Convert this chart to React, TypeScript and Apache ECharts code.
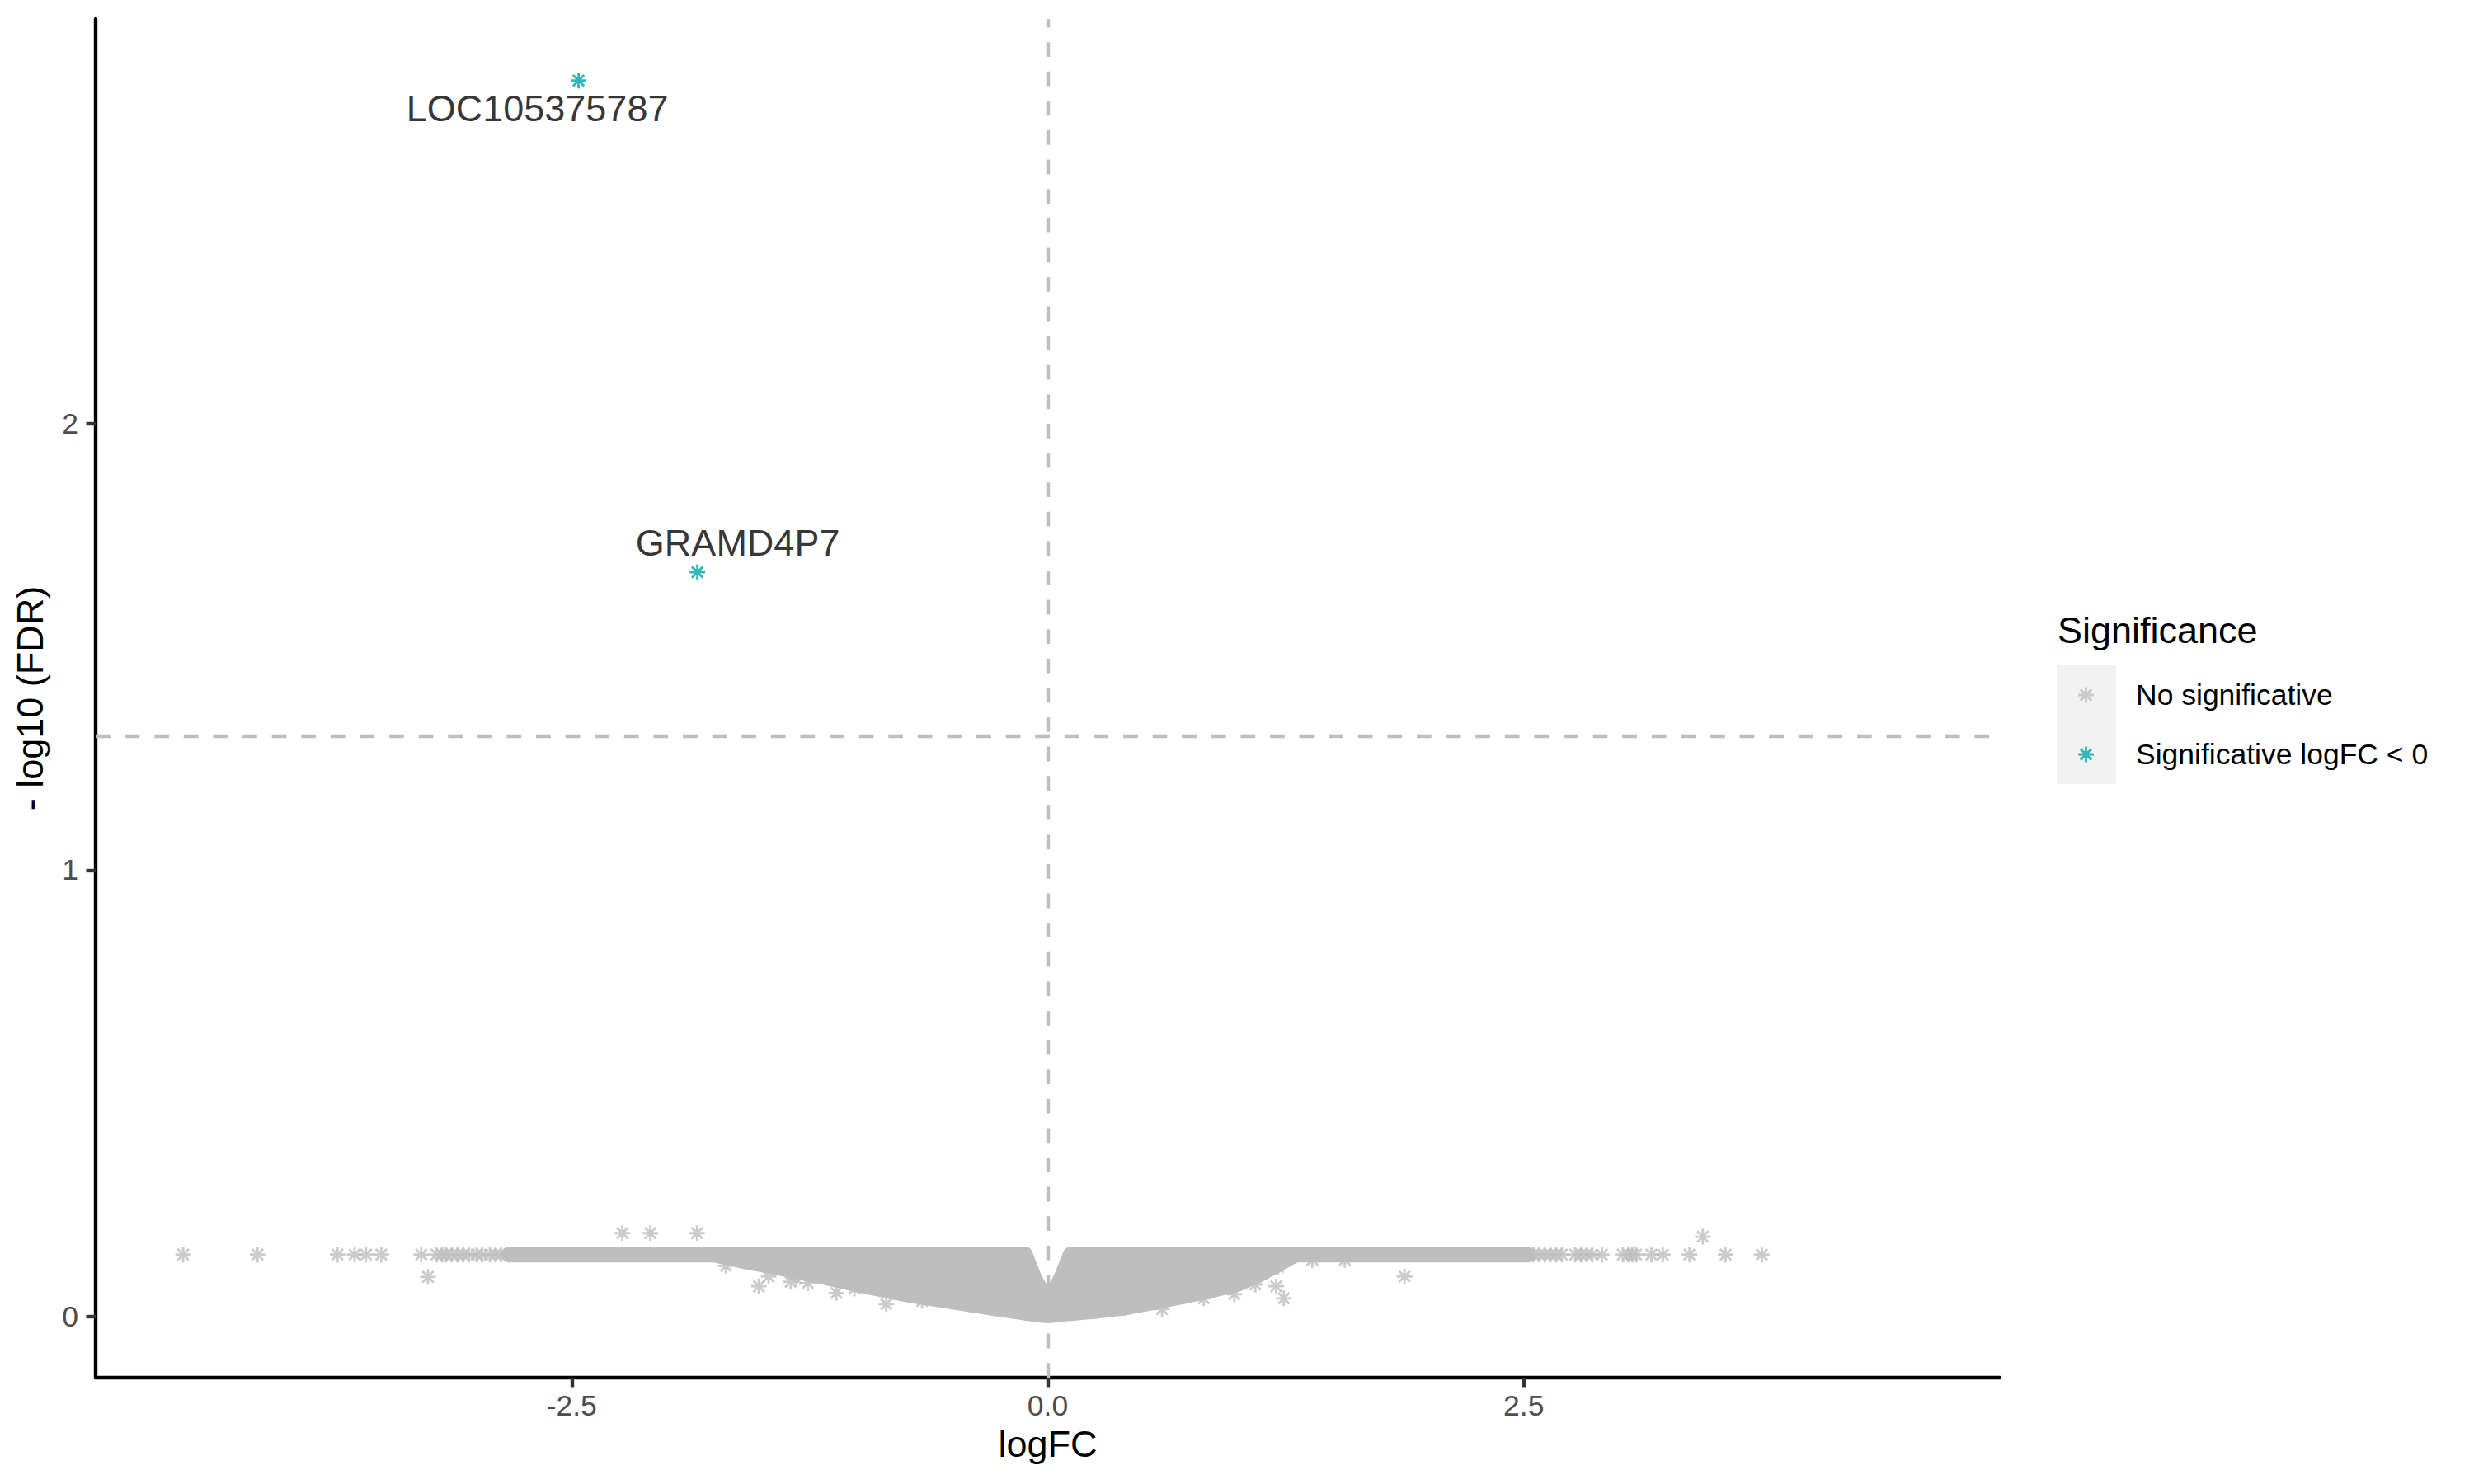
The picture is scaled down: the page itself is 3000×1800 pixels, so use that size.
import React, { useEffect, useRef } from "react";
import * as echarts from "echarts";

// ---------- data ----------
// highlighted genes (significant, logFC < 0)
const sigNames = ["LOC105375787", "GRAMD4P7"];
const sigLogFC = [-2.464, -1.84];
const sigNegLogFDR = [2.768, 1.667];

// non-significant genes drawn individually (scattered outliers)
const nsPoints: number[][] = [
  [-4.54, 0.139], [-4.15, 0.139], [-3.73, 0.139], [-3.64, 0.139], [-3.58, 0.139],
  [-3.5, 0.139], [-3.29, 0.139], [-3.21, 0.139], [-3.18, 0.139], [-3.16, 0.139],
  [-3.13, 0.139], [-3.1, 0.139], [-3.07, 0.139], [-3.04, 0.139], [-3.0, 0.139],
  [-2.97, 0.139], [-2.93, 0.139], [-2.9, 0.139], [-2.87, 0.139],
  [2.55, 0.139], [2.58, 0.139], [2.61, 0.139], [2.64, 0.139], [2.67, 0.139],
  [2.7, 0.139], [2.77, 0.139], [2.8, 0.139], [2.83, 0.139], [2.86, 0.139],
  [2.91, 0.139], [3.02, 0.139], [3.05, 0.139], [3.07, 0.139], [3.09, 0.139],
  [3.17, 0.139], [3.23, 0.139], [3.37, 0.139], [3.56, 0.139], [3.75, 0.139],
  [-3.255, 0.089], [-2.234, 0.187], [-2.087, 0.187], [-1.842, 0.187],
  [-1.69, 0.114], [-1.517, 0.068], [-1.466, 0.09], [-1.49, 0.115], [-1.38, 0.11],
  [-1.35, 0.078], [-1.32, 0.085], [-1.26, 0.075], [-1.11, 0.053], [-1.015, 0.063],
  [-0.848, 0.028], [-0.66, 0.035], [0.6, 0.017], [0.82, 0.041], [0.98, 0.05],
  [1.09, 0.072], [1.2, 0.068], [1.24, 0.041], [1.21, 0.111], [1.39, 0.127],
  [1.56, 0.127], [1.874, 0.09], [3.44, 0.179],
];

// envelope of the dense cloud of non-significant genes (logFC, lowest and highest -log10 FDR)
const cloudX = [-2.83, -1.75, -1.6, -1.45, -1.3, -1.15, -1.0, -0.85, -0.7, -0.55, -0.4, -0.25,
  -0.12, -0.07, -0.03, 0, 0.03, 0.07, 0.12, 0.25, 0.4, 0.55, 0.7, 0.85, 1.0, 1.1, 1.2, 1.3, 2.52];
const cloudTop = [0.139, 0.139, 0.139, 0.139, 0.139, 0.139, 0.139, 0.139, 0.139, 0.139, 0.139, 0.139,
  0.139, 0.085, 0.055, 0.04, 0.055, 0.085, 0.139, 0.139, 0.139, 0.139, 0.139, 0.139, 0.139, 0.139,
  0.139, 0.139, 0.139];
const cloudBottom = [0.139, 0.139, 0.125, 0.113, 0.1, 0.087, 0.072, 0.059, 0.047, 0.037, 0.027, 0.017,
  0.009, 0.006, 0.004, 0.003, 0.004, 0.006, 0.008, 0.013, 0.02, 0.032, 0.045, 0.058, 0.074, 0.092,
  0.115, 0.139, 0.139];

// thresholds
const logFCThreshold = 0;
const fdrThreshold = 1.301; // -log10(0.05)

// axes
const xMin = -5;
const xMax = 5;
const xTicks = [-2.5, 0, 2.5];
const yMin = -0.1366;
const yMax = 2.906;
const yTicks = [0, 1, 2];

const legendNames = ["No significative", "Significative logFC < 0"];

// ---------- styling ----------
const FONT = "'Liberation Sans', Arial, Helvetica, sans-serif";
const GRAY = "#BEBEBE";
const TEAL = "#00A5AD";
const STAR =
  "path://M8.5 0H11.5V20H8.5Z M0 8.5H20V11.5H0Z M3.99 1.87L18.13 16.01L16.01 18.13L1.87 3.99Z M16.01 1.87L18.13 3.99L3.99 18.13L1.87 16.01Z";
const SYM = 19;

const labelOffsets: Record<string, number[]> = {
  LOC105375787: [-50, 34],
  GRAMD4P7: [49, -36],
};

export default function App() {
  const ref = useRef<HTMLDivElement>(null);

  useEffect(() => {
    document.body.style.margin = "0";
    if (!ref.current) return;
    const chart = echarts.init(ref.current, undefined, { renderer: "svg" });

    const cloudData = cloudX.map((x, i) => [x, cloudBottom[i], cloudTop[i]]);
    const sigData = sigNames.map((n, i) => ({
      name: n,
      value: [sigLogFC[i], sigNegLogFDR[i]],
      label: { offset: labelOffsets[n] },
    }));

    const option: any = {
      animation: false,
      backgroundColor: "#FFFFFF",
      textStyle: { fontFamily: FONT },
      grid: { left: 116, top: 23, width: 2309, height: 1648, containLabel: false },
      xAxis: {
        type: "value",
        min: xMin,
        max: xMax,
        name: "logFC",
        nameLocation: "middle",
        nameGap: 58,
        nameTextStyle: { fontSize: 45, color: "#000000", fontFamily: FONT },
        splitLine: { show: false },
        axisLine: { show: true, onZero: false, lineStyle: { color: "#000000", width: 4.4 } },
        axisTick: { show: true, length: 11.5, customValues: xTicks, lineStyle: { color: "#333333", width: 4.4 } },
        axisLabel: {
          customValues: xTicks,
          margin: 16,
          fontSize: 35.5,
          color: "#4D4D4D",
          fontFamily: FONT,
          formatter: (v: number) => v.toFixed(1),
        },
      },
      yAxis: {
        type: "value",
        min: yMin,
        max: yMax,
        name: "- log10 (FDR)",
        nameLocation: "middle",
        nameGap: 57,
        nameRotate: 90,
        nameTextStyle: { fontSize: 45, color: "#000000", fontFamily: FONT },
        splitLine: { show: false },
        axisLine: { show: true, onZero: false, lineStyle: { color: "#000000", width: 4.4 } },
        axisTick: { show: true, length: 11.5, customValues: yTicks, lineStyle: { color: "#333333", width: 4.4 } },
        axisLabel: {
          customValues: yTicks,
          margin: 21,
          fontSize: 35.5,
          color: "#4D4D4D",
          fontFamily: FONT,
          formatter: (v: number) => String(Math.round(v)),
        },
      },
      legend: {
        orient: "vertical",
        left: 2520,
        top: 825,
        padding: 0,
        itemWidth: SYM,
        itemHeight: SYM,
        itemGap: 36,
        selectedMode: false,
        z: 10,
        data: legendNames.map((n) => ({ name: n, icon: STAR })),
        textStyle: {
          fontSize: 35.5,
          lineHeight: 36,
          color: "#000000",
          fontFamily: FONT,
          padding: [0, 0, 0, 46],
        },
      },
      graphic: [
        {
          type: "rect",
          z: 0,
          silent: true,
          shape: { x: 2494, y: 807, width: 72, height: 144 },
          style: { fill: "#F2F2F2" },
        },
        {
          type: "text",
          z: 0,
          silent: true,
          x: 2495,
          y: 764,
          style: {
            text: "Significance",
            fontSize: 45,
            fontFamily: FONT,
            fill: "#000000",
            align: "left",
            verticalAlign: "middle",
          },
        },
      ],
      series: [
        {
          name: legendNames[0],
          type: "scatter",
          data: nsPoints,
          symbol: STAR,
          symbolSize: SYM,
          itemStyle: { color: GRAY },
          silent: true,
          z: 2,
        },
        {
          name: legendNames[0],
          type: "custom",
          data: cloudData,
          encode: { x: 0, y: [1, 2] },
          silent: true,
          z: 2,
          itemStyle: { color: GRAY },
          renderItem: (params: any, api: any) => {
            const i = params.dataIndex;
            if (i >= cloudX.length - 1) return { type: "group", children: [] };
            const pts = [
              api.coord([api.value(0), api.value(2)]),
              api.coord([cloudX[i + 1], cloudTop[i + 1]]),
              api.coord([cloudX[i + 1], cloudBottom[i + 1]]),
              api.coord([api.value(0), api.value(1)]),
            ];
            return {
              type: "polygon",
              shape: { points: pts },
              style: { fill: GRAY, stroke: GRAY, lineWidth: SYM, lineJoin: "round" },
            };
          },
        },
        {
          name: legendNames[1],
          type: "scatter",
          data: sigData,
          symbol: STAR,
          symbolSize: SYM,
          itemStyle: { color: TEAL },
          silent: true,
          z: 4,
          label: {
            show: true,
            position: "inside",
            formatter: (p: any) => p.name,
            fontSize: 45,
            color: "#000000",
            textBorderWidth: 0,
            textBorderColor: "transparent",
            fontFamily: FONT,
          },
          markLine: {
            silent: true,
            symbol: ["none", "none"],
            label: { show: false },
            lineStyle: { color: GRAY, width: 4.4, type: [17.8, 17.8] },
            data: [{ xAxis: logFCThreshold }, { yAxis: fdrThreshold }],
          },
        },
      ],
    };

    chart.setOption(option);
    return () => chart.dispose();
  }, []);

  return <div ref={ref} style={{ width: 3000, height: 1800, overflow: "hidden" }} />;
}
